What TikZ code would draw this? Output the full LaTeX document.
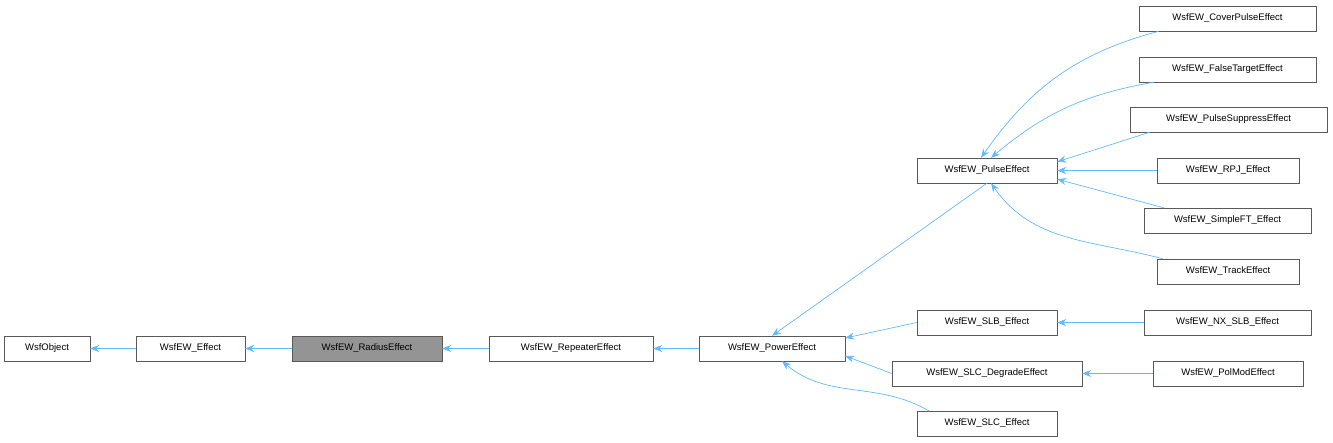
\documentclass[tikz,border=0pt]{standalone}
\usepackage{fontspec}
\setmainfont{Liberation Sans}
\usetikzlibrary{arrows.meta}
\begin{document}
\begin{tikzpicture}[x=1pt,y=-1pt,
  box/.style={draw=black!65,fill=white,minimum height=25pt,inner sep=0pt,font=\fontsize{9.5}{11}\selectfont,anchor=center},
  e/.style={draw=black!75,fill=white},
  ed/.style={draw={rgb,255:red,99;green,184;blue,255},line width=0.7pt,-{Stealth[length=9pt,width=7pt]}}]
\useasboundingbox (0,0) rectangle (1333,443);
\newcommand\bx[6]{\node[box,minimum width=#4pt,#6] (#1) at (#2,#3) {#5};}
\bx{obj}{47}{348.5}{86}{WsfObject}{}
\bx{eff}{190.5}{348.5}{109}{WsfEW\_Effect}{}
\bx{rad}{367}{348.5}{150}{WsfEW\_RadiusEffect}{fill=black!42}
\bx{rep}{571}{348.5}{164}{WsfEW\_RepeaterEffect}{}
\bx{pow}{772}{348.5}{146}{WsfEW\_PowerEffect}{}
\bx{pul}{987}{170.5}{140}{WsfEW\_PulseEffect}{}
\bx{slb}{987}{322.5}{140}{WsfEW\_SLB\_Effect}{}
\bx{slcd}{987}{373.5}{190}{WsfEW\_SLC\_DegradeEffect}{}
\bx{slc}{987}{423.5}{140}{WsfEW\_SLC\_Effect}{}
\bx{cov}{1227.5}{18.5}{177}{WsfEW\_CoverPulseEffect}{}
\bx{fal}{1227.5}{69.5}{177}{WsfEW\_FalseTargetEffect}{}
\bx{sup}{1228.5}{119.5}{197}{WsfEW\_PulseSuppressEffect}{}
\bx{rpj}{1228}{170.5}{142}{WsfEW\_RPJ\_Effect}{}
\bx{sft}{1227.5}{220.5}{167}{WsfEW\_SimpleFT\_Effect}{}
\bx{trk}{1228}{271.5}{142}{WsfEW\_TrackEffect}{}
\bx{nx}{1227.5}{322.5}{167}{WsfEW\_NX\_SLB\_Effect}{}
\bx{pol}{1228}{373.5}{150}{WsfEW\_PolModEffect}{}
\draw[ed] (eff) -- (obj);
\draw[ed] (rad) -- (eff);
\draw[ed] (rep) -- (rad);
\draw[ed] (pow) -- (rep);
\draw[ed] (pul.south) -- (pow.north);
\draw[ed] (slb.west) -- (pow.east |- 0,338);
\draw[ed] (slcd.west) -- (pow.east |- 0,356);
\draw[ed] (slc.north west) ++(12,0) to[out=150,in=-40] ([xshift=10pt]pow.south);
\draw[ed] (cov.south west) ++(20,0) to[out=195,in=55] ([xshift=-6pt]pul.north);
\draw[ed] (fal.south west) ++(15,0) to[out=190,in=40] ([xshift=4pt]pul.north);
\draw[ed] (sup.south west) ++(20,0) -- ([yshift=-4pt]pul.north east);
\draw[ed] (rpj) -- (pul);
\draw[ed] (sft.north west) ++(20,0) -- ([yshift=4pt]pul.south east);
\draw[ed] (trk.north west) ++(6,0) to[out=165,in=-55] ([xshift=4pt]pul.south);
\draw[ed] (nx) -- (slb);
\draw[ed] (pol) -- (slcd);
\end{tikzpicture}
\end{document}
